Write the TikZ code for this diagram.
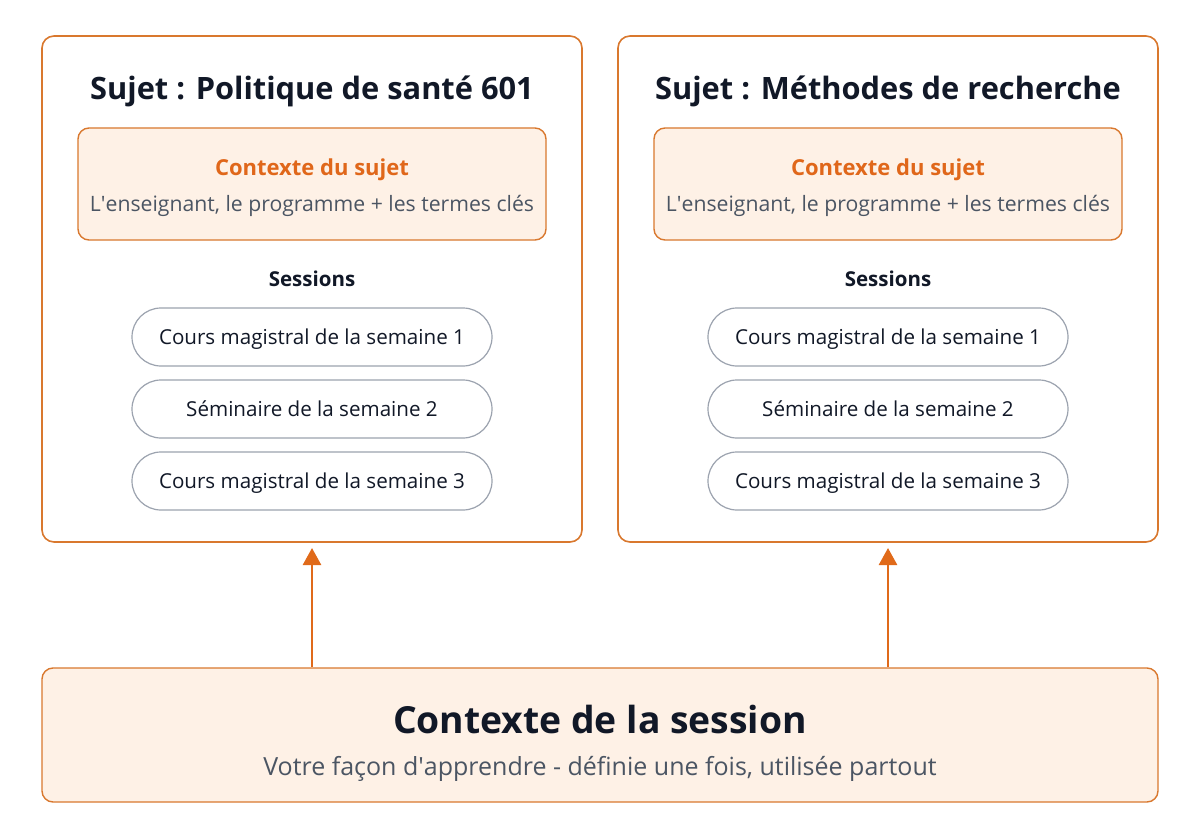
\documentclass[tikz,border=0pt]{standalone}
\usepackage{fontspec}
\setmainfont{Open Sans}
\usetikzlibrary{arrows.meta}
\definecolor{borange}{HTML}{D9782E}
\definecolor{torange}{HTML}{E0671A}
\definecolor{aorange}{HTML}{E06A1A}
\definecolor{cfill}{HTML}{FEF1E6}
\definecolor{dark}{HTML}{111827}
\definecolor{gtext}{HTML}{4B5563}
\definecolor{pgray}{HTML}{9CA3AF}
\tikzset{
  capc/.style={text height=#1, text depth=0pt, inner sep=0pt},
  panel/.style={draw=borange, line width=1.6pt, rounded corners=12pt, fill=white},
  ctxbox/.style={draw=borange, line width=1.4pt, rounded corners=11pt, fill=cfill},
  pill/.style={draw=pgray, line width=1.2pt, rounded corners=29pt, fill=white, minimum width=360pt, minimum height=58pt, capc=14.7pt, font=\fontsize{20.6}{24}\selectfont, text=dark},
  ptitle/.style={font=\fontsize{30.8}{36}\selectfont\bfseries, text=dark, capc=22pt},
  ctitle/.style={font=\fontsize{22}{26}\selectfont\bfseries, text=torange, capc=15.7pt},
  csub/.style={font=\fontsize{21.2}{25}\selectfont, text=gtext, capc=15.1pt},
  sess/.style={font=\fontsize{20.5}{24}\selectfont\bfseries, text=dark, capc=14.6pt},
  uparrow/.style={draw=aorange, line width=2.6pt, -{Triangle[length=17pt,width=18pt]}},
}
\begin{document}
\begin{tikzpicture}[x=1pt,y=-1pt]
\useasboundingbox (0,0) rectangle (1200,840);
% panels
\foreach \cx/\nm/\ttl in {312/L/{Sujet : Politique de santé 601}, 888/R/{Sujet : Méthodes de recherche}} {
  \node[panel, minimum width=540pt, minimum height=506pt, inner sep=0pt] (panel\nm) at (\cx,289) {};
  \node[ptitle] (title\nm) at (\cx,89) {\ttl};
  \node[ctxbox, minimum width=468pt, minimum height=112pt, inner sep=0pt] (ctx\nm) at (\cx,184) {};
  \node[ctitle] (ctxt\nm) at (\cx,168) {Contexte du sujet};
  \node[csub] (ctxs\nm) at (\cx,204) {L\textquotesingle enseignant, le programme + les termes clés};
  \node[sess] (sess\nm) at (\cx,279) {Sessions};
  \node[pill] (p1\nm) at (\cx,337) {Cours magistral de la semaine 1};
  \node[pill] (p2\nm) at (\cx,409) {Séminaire de la semaine 2};
  \node[pill] (p3\nm) at (\cx,481) {Cours magistral de la semaine 3};
}
% bottom
\node[ctxbox, minimum width=1116pt, minimum height=134pt, inner sep=0pt] (bottom) at (600,735) {};
\node[font=\fontsize{37.3}{44}\selectfont\bfseries, text=dark, capc=26.6pt] (btitle) at (600,720) {Contexte de la session};
\node[font=\fontsize{25}{30}\selectfont, text=gtext, capc=17.9pt] (bsub) at (600,767) {Votre façon d\textquotesingle apprendre - définie une fois, utilisée partout};
% arrows
\coordinate (aL) at (312,667);
\coordinate (aR) at (888,667);
\coordinate (tL) at (312,548);
\coordinate (tR) at (888,548);
\draw[uparrow] (aL) -- (tL);
\draw[uparrow] (aR) -- (tR);
\end{tikzpicture}
\end{document}
